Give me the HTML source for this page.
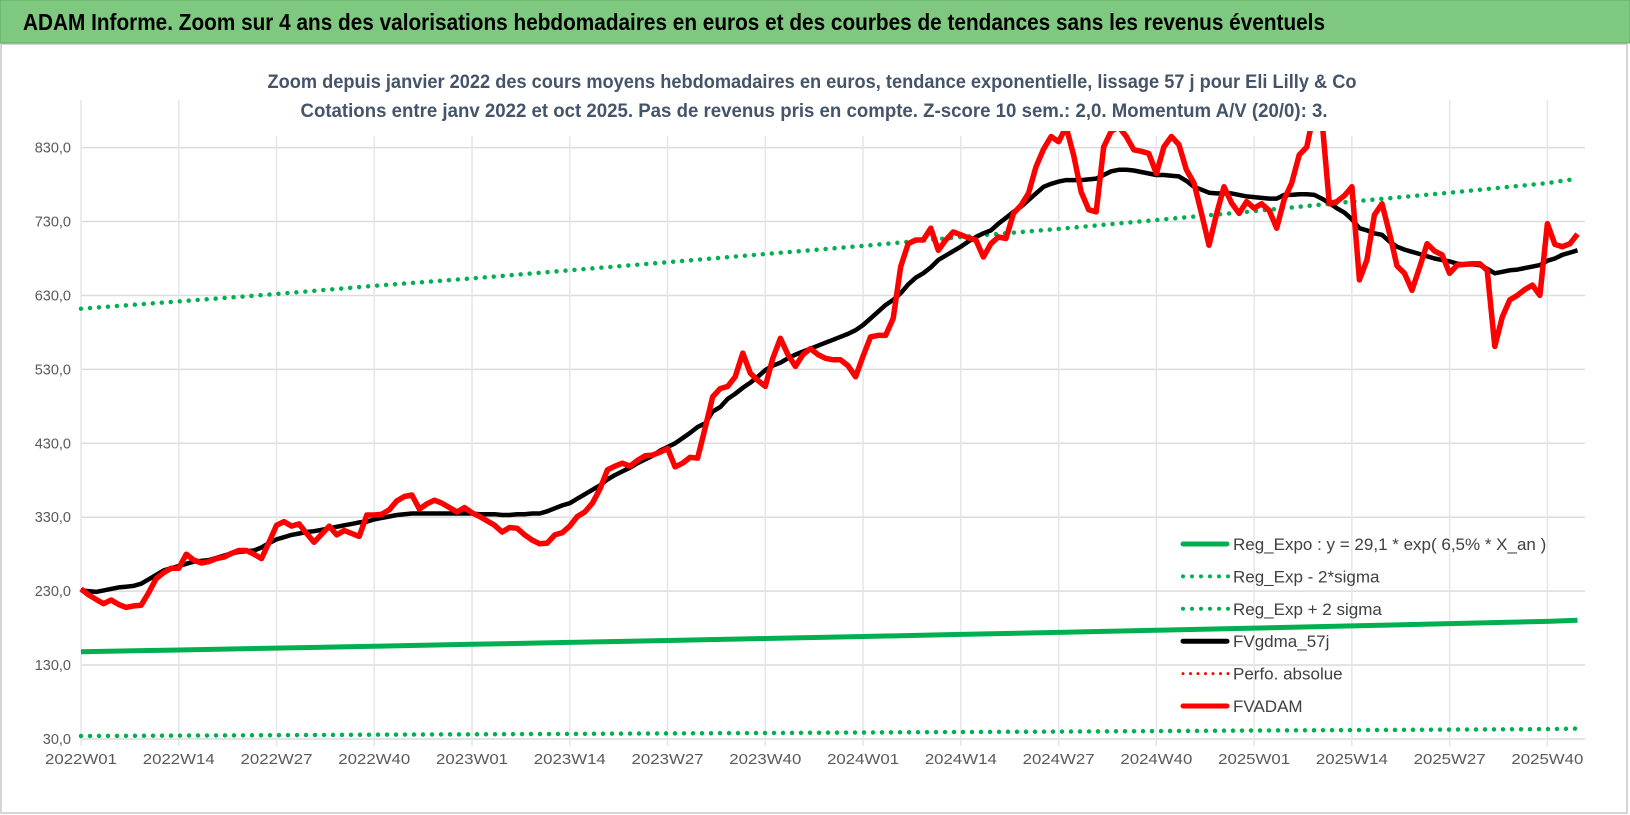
<!DOCTYPE html>
<html><head><meta charset="utf-8">
<style>
html,body{margin:0;padding:0;background:#fff;}
svg{display:block;}
text{font-family:"Liberation Sans",sans-serif;}
</style></head>
<body>
<svg id="chart" width="1630" height="815" viewBox="0 0 1630 815" xmlns="http://www.w3.org/2000/svg">
  <rect x="0" y="0" width="1630" height="815" fill="#fff"/>
  <rect x="1" y="44" width="1626" height="769" fill="#fff" stroke="#c8c8c8" stroke-width="1.5"/>
  <rect x="0" y="0" width="1630" height="43" fill="#7ec87f" stroke="#6aa86b" stroke-width="1"/>
  <text x="23" y="30" font-size="23" font-weight="bold" fill="#000" textLength="1302" lengthAdjust="spacingAndGlyphs">ADAM Informe. Zoom sur 4 ans des valorisations hebdomadaires en euros et des courbes de tendances sans les revenus éventuels</text>
  <g id="grid"></g>
  <g id="axes"></g>
  <rect x="262" y="60" width="1110" height="76" fill="#fff"/>
  <text x="812" y="88" font-size="19" font-weight="bold" fill="#44546a" text-anchor="middle" textLength="1089" lengthAdjust="spacingAndGlyphs">Zoom depuis janvier 2022 des cours moyens hebdomadaires en euros, tendance exponentielle, lissage 57 j pour Eli Lilly &amp; Co</text>
  <text x="814" y="117" font-size="19" font-weight="bold" fill="#44546a" text-anchor="middle" textLength="1027" lengthAdjust="spacingAndGlyphs">Cotations entre janv 2022 et oct 2025. Pas de revenus pris en compte. Z-score 10 sem.: 2,0. Momentum A/V (20/0): 3.</text>
  <defs><clipPath id="plotclip"><rect x="75" y="131" width="1515" height="615"/></clipPath></defs>
  <g id="series" clip-path="url(#plotclip)"></g>
  <g id="legend"></g>
</svg>
<script>
const xLabels = ["2022W01","2022W14","2022W27","2022W40","2023W01","2023W14","2023W27","2023W40","2024W01","2024W14","2024W27","2024W40","2025W01","2025W14","2025W27","2025W40"];
const yTicks = [30,130,230,330,430,530,630,730,830];
const fvadam = [233,225,219,213,218,212,208,210,211,228,247,255,261,261,280,272,268,270,274,276,281,285,285,280,274,296,319,324,318,321,308,296,307,318,306,312,308,304,333,333,334,340,352,358,360,341,348,353,349,343,337,343,336,331,325,319,310,316,315,306,299,294,295,306,309,318,331,337,349,368,394,399,403,399,407,413,414,418,423,398,403,411,410,451,493,504,507,520,552,525,515,507,545,572,550,534,550,558,550,545,543,543,535,520,548,574,576,576,599,669,700,705,705,721,691,705,716,712,708,705,682,700,709,707,741,752,768,804,828,845,838,858,820,770,746,743,831,852,858,845,827,825,822,795,831,845,834,800,782,741,698,740,777,755,741,757,748,754,745,721,760,782,820,831,880,870,754,757,765,777,651,678,739,754,714,670,660,637,668,700,690,685,660,671,672,673,673,664,561,601,624,630,638,644,630,727,699,696,700,713];
const fvgdma = [231,230,229,231,233,235,236,237,240,246,252,258,261,264,267,270,271,272,275,278,281,283,284,285,289,295,300,303,306,308,310,311,313,315,317,319,321,323,324,327,329,331,333,334,335,335,335,335,335,335,335,335,335,334,334,334,333,333,334,334,335,335,338,342,346,349,355,361,367,373,381,387,392,397,403,408,413,420,425,430,437,444,452,457,473,479,490,497,505,512,520,529,535,539,545,550,554,558,562,566,570,574,578,583,590,599,608,617,624,633,645,654,660,668,678,684,690,696,703,709,714,718,727,735,743,750,759,768,777,781,784,786,786,786,787,788,793,798,800,800,799,797,795,793,793,792,791,785,777,773,769,768,768,768,766,764,763,762,761,761,766,766,767,767,766,761,755,748,742,733,721,718,714,712,703,696,692,689,686,683,680,678,676,673,672,672,671,666,660,662,664,665,667,669,671,677,680,685,688,691];
const trendWeeks = [0,13,26,39,52,65,78,91,104,117,130,143,156,169,182,195,199];
const regExpo = [148,150.4,152.9,155.4,158.0,160.6,163.2,165.9,168.6,171.4,174.2,177.1,180.0,183.0,186.0,189.0,190.5];
const regMinus = [34,34.6,35.1,35.7,36.3,36.9,37.5,38.1,38.7,39.4,40.0,40.7,41.4,42.0,42.7,43.4,44.0];
const regPlus = [612,622,632,643,653,664,675,686,697,709,720,732,744,757,769,782,788];

const NS="http://www.w3.org/2000/svg";
const X0=81, XSTEP=7.52, XEND=1585;
function xs(i){return X0+i*XSTEP;}
function ys(v){return 147.6+(830-v)*0.7392;}
function mk(tag,attrs,parent){const e=document.createElementNS(NS,tag);for(const k in attrs)e.setAttribute(k,attrs[k]);parent.appendChild(e);return e;}
const grid=document.getElementById('grid'), axes=document.getElementById('axes'), series=document.getElementById('series'), legend=document.getElementById('legend');

yTicks.forEach(v=>{
  const l=mk('line',{x1:X0,x2:XEND,y1:ys(v),y2:ys(v),stroke:'#dcdcdc','stroke-width':1.5},grid);
  
  
  const t=mk('text',{x:71,y:ys(v)+5,'font-size':14.5,fill:'#595959','text-anchor':'end'},axes);
  t.textContent=v.toFixed(1).replace('.',',');
  
  
});
xLabels.forEach((lab,k)=>{
  const x=xs(k*13);
  const l=mk('line',{x1:x,x2:x,y1:100,y2:746,stroke:'#e3e6ea','stroke-width':1.5},grid);
  
  
  const t=mk('text',{x:x,y:764,'font-size':14.5,fill:'#595959','text-anchor':'middle',textLength:72,lengthAdjust:'spacingAndGlyphs'},axes);
  t.textContent=lab;
  
  
});

function pts(idx,vals){return vals.map((v,j)=>xs(idx[j]).toFixed(1)+','+ys(v).toFixed(1)).join(' ');}
const weeks=fvadam.map((_,i)=>i);

const lm=mk('polyline',{points:pts(trendWeeks,regMinus),fill:'none',stroke:'#00b050','stroke-width':4.5,'stroke-linecap':'round','stroke-dasharray':'0 9'},series);


const lp=mk('polyline',{points:pts(trendWeeks,regPlus),fill:'none',stroke:'#00b050','stroke-width':4.5,'stroke-linecap':'round','stroke-dasharray':'0 9'},series);


const lr=mk('polyline',{points:pts(trendWeeks,regExpo),fill:'none',stroke:'#00b050','stroke-width':5},series);


const lb=mk('polyline',{points:pts(weeks,fvgdma),fill:'none',stroke:'#000','stroke-width':4.5,'stroke-linejoin':'round'},series);


const lred=mk('polyline',{points:pts(weeks,fvadam),fill:'none',stroke:'#ff0000','stroke-width':5.5,'stroke-linejoin':'round'},series);



const legItems=[
 ['Reg_Expo : y = 29,1 * exp( 6,5% *  X_an )','#00b050','solid','legend-reg-expo'],
 ['Reg_Exp - 2*sigma','#00b050','dot','legend-reg-exp-minus'],
 ['Reg_Exp + 2 sigma','#00b050','dot','legend-reg-exp-plus'],
 ['FVgdma_57j','#000','solid','legend-fvgdma'],
 ['Perfo. absolue','#ff0000','dotsmall','legend-perfo-absolue'],
 ['FVADAM','#ff0000','solid','legend-fvadam']
];
legItems.forEach((it,k)=>{
  const y=544+k*32.4;
  const g=mk('g',{},legend);
  
  
  if(it[2]==='solid') mk('line',{x1:1183,x2:1227,y1:y,y2:y,stroke:it[1],'stroke-width':5,'stroke-linecap':'round'},g);
  else if(it[2]==='dot') mk('line',{x1:1183,x2:1229,y1:y,y2:y,stroke:it[1],'stroke-width':4,'stroke-linecap':'round','stroke-dasharray':'0 9'},g);
  else mk('line',{x1:1183,x2:1229,y1:y,y2:y,stroke:it[1],'stroke-width':3,'stroke-linecap':'round','stroke-dasharray':'0 7.5'},g);
  const t=mk('text',{x:1233,y:y+6,'font-size':17,fill:'#404040'},g);
  t.textContent=it[0];
});
</script>
</body></html>
